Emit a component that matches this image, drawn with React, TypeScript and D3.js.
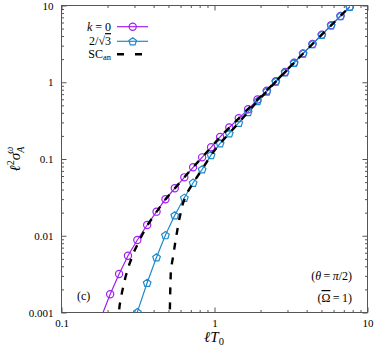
import { useEffect, useRef } from 'react'
import * as d3 from 'd3'

const X_TICKS = [0.1, 1, 10]
const X_TICK_LABELS = ['0.1', '1', '10']
const Y_TICKS = [0.001, 0.01, 0.1, 1, 10]
const Y_TICK_LABELS = ['0.001', '0.01', '0.1', '1', '10']

// lT0 values where the k = 0 markers sit
const K0_X = [
  0.208, 0.238, 0.272, 0.313, 0.363, 0.418, 0.478, 0.55, 0.635, 0.725, 0.83, 0.95, 1.088, 1.249,
  1.441, 1.658, 1.91, 2.198, 2.516, 2.893, 3.313, 3.794, 4.371, 5.028, 5.783, 6.661, 7.661,
]
const K0_Y = [
  0.00173, 0.00318, 0.0055, 0.0088, 0.0138, 0.0206, 0.0299, 0.0415, 0.0577, 0.078, 0.105, 0.142,
  0.194, 0.257, 0.339, 0.444, 0.596, 0.776, 1.03, 1.36, 1.8, 2.38, 3.15, 4.17, 5.52, 7.3, 9.64,
]
// line continues below the first marker
const K0_TAIL_X = [0.185]
const K0_TAIL_Y = [0.00095]

// k = 2/sqrt(3)
const K2_X = [
  0.313, 0.363, 0.418, 0.478, 0.55, 0.635, 0.725, 0.83, 0.95, 1.088, 1.249, 1.441, 1.658, 1.91,
  2.198, 2.516, 2.893, 3.313, 3.794, 4.371, 5.028, 5.783, 6.661, 7.661,
]
const K2_Y = [
  0.00101, 0.00244, 0.00524, 0.0102, 0.0185, 0.0313, 0.0491, 0.0734, 0.113, 0.16, 0.216, 0.297,
  0.41, 0.57, 0.76, 1.02, 1.35, 1.79, 2.37, 3.14, 4.16, 5.51, 7.29, 9.63,
]

// SC_an, k = 0 branch
const SC1_X = [
  0.2355, 0.237, 0.24, 0.249, 0.262, 0.277, 0.3, 0.33, 0.363, 0.418, 0.478, 0.55, 0.635, 0.725,
  0.83, 0.95, 1.088, 1.441, 1.91, 2.516, 3.313, 4.371, 5.783, 7.661, 8.5,
]
const SC1_Y = [
  0.0007, 0.001, 0.00125, 0.00187, 0.0029, 0.0042, 0.0064, 0.0095, 0.0136, 0.0205, 0.0298, 0.0414,
  0.0577, 0.078, 0.105, 0.142, 0.194, 0.339, 0.596, 1.03, 1.8, 3.15, 5.52, 9.64, 12,
]
// SC_an, k = 2/sqrt(3) branch
const SC2_X = [
  0.508, 0.5105, 0.514, 0.518, 0.527, 0.536, 0.558, 0.587, 0.62, 0.66, 0.725, 0.83, 0.95, 1.088,
  1.249, 1.441, 1.658, 1.91, 2.198, 2.516, 3.313,
]
const SC2_Y = [
  0.0007, 0.001, 0.002, 0.0033, 0.0044, 0.0053, 0.009, 0.016, 0.026, 0.036, 0.049, 0.0734, 0.113,
  0.16, 0.216, 0.297, 0.41, 0.57, 0.76, 1.02, 1.79,
]

const PURPLE = '#a020f0'
const BLUE = '#1f8ac9'
const FRAME = '#555'
const FONT = '"Liberation Serif", "Times New Roman", serif'

const pentagon = (cx: number, cy: number, r: number) => {
  const p = d3.path()
  for (let i = 0; i < 5; i++) {
    const a = -Math.PI / 2 + (i * 2 * Math.PI) / 5
    const px = cx + r * Math.cos(a)
    const py = cy + r * Math.sin(a)
    if (i === 0) p.moveTo(px, py)
    else p.lineTo(px, py)
  }
  p.closePath()
  return p.toString()
}

export default function App() {
  const svgRef = useRef<SVGSVGElement>(null)

  useEffect(() => {
    if (!svgRef.current) return
    const width = 374
    const height = 349
    const left = 61.5
    const right = 367.5
    const top = 5.5
    const bottom = 312.5

    const svg = d3.select(svgRef.current)
    svg.selectAll('*').remove()
    svg.attr('width', width).attr('height', height)

    const x = d3.scaleLog().domain([0.1, 10]).range([left, right])
    const y = d3.scaleLog().domain([0.001, 10]).range([bottom, top])

    svg.append('rect').attr('width', width).attr('height', height).attr('fill', '#fff')

    svg
      .append('clipPath')
      .attr('id', 'plot-clip')
      .append('rect')
      .attr('x', left)
      .attr('y', top)
      .attr('width', right - left)
      .attr('height', bottom - top)

    // ticks
    const xMinor = x.ticks().filter((t) => !X_TICKS.some((m) => Math.abs(m - t) < 1e-9))
    const yMinor = y.ticks().filter((t) => !Y_TICKS.some((m) => Math.abs(m - t) < 1e-9))

    const styleAxis = (g: d3.Selection<SVGGElement, unknown, null, undefined>) => {
      g.select('.domain').remove()
      g.selectAll('line').attr('stroke', FRAME)
      g.selectAll('text').attr('font-family', FONT).attr('font-size', 11).attr('fill', '#000')
    }

    svg.append('g').attr('transform', `translate(0,${bottom})`)
      .call(d3.axisBottom(x).tickValues(X_TICKS).tickSize(-5).tickPadding(7)
        .tickFormat((_d, i) => X_TICK_LABELS[i]))
      .call(styleAxis)
    svg.append('g').attr('transform', `translate(0,${bottom})`)
      .call(d3.axisBottom(x).tickValues(xMinor).tickSize(-2.5).tickFormat(() => ''))
      .call(styleAxis)
    svg.append('g').attr('transform', `translate(0,${top})`)
      .call(d3.axisTop(x).tickValues(X_TICKS).tickSize(-5).tickFormat(() => ''))
      .call(styleAxis)
    svg.append('g').attr('transform', `translate(0,${top})`)
      .call(d3.axisTop(x).tickValues(xMinor).tickSize(-2.5).tickFormat(() => ''))
      .call(styleAxis)

    svg.append('g').attr('transform', `translate(${left},0)`)
      .call(d3.axisLeft(y).tickValues(Y_TICKS).tickSize(-5).tickPadding(8)
        .tickFormat((_d, i) => Y_TICK_LABELS[i]))
      .call(styleAxis)
    svg.append('g').attr('transform', `translate(${left},0)`)
      .call(d3.axisLeft(y).tickValues(yMinor).tickSize(-2.5).tickFormat(() => ''))
      .call(styleAxis)
    svg.append('g').attr('transform', `translate(${right},0)`)
      .call(d3.axisRight(y).tickValues(Y_TICKS).tickSize(-5).tickFormat(() => ''))
      .call(styleAxis)
    svg.append('g').attr('transform', `translate(${right},0)`)
      .call(d3.axisRight(y).tickValues(yMinor).tickSize(-2.5).tickFormat(() => ''))
      .call(styleAxis)

    svg.append('rect')
      .attr('x', left).attr('y', top)
      .attr('width', right - left).attr('height', bottom - top)
      .attr('fill', 'none').attr('stroke', FRAME).attr('stroke-width', 1)

    const plot = svg.append('g').attr('clip-path', 'url(#plot-clip)')
    const line = d3.line<[number, number]>().x((d) => x(d[0])).y((d) => y(d[1]))
    const zip = (xs: number[], ys: number[]) => xs.map((v, i) => [v, ys[i]] as [number, number])

    // k = 0
    const k0 = zip(K0_X, K0_Y)
    plot.append('path')
      .attr('d', line([...zip(K0_TAIL_X, K0_TAIL_Y), ...k0]))
      .attr('fill', 'none').attr('stroke', PURPLE).attr('stroke-width', 1.2)
    plot.selectAll('.k0').data(k0).join('circle')
      .attr('class', 'k0')
      .attr('cx', (d) => x(d[0])).attr('cy', (d) => y(d[1])).attr('r', 3.6)
      .attr('fill', 'none').attr('stroke', PURPLE).attr('stroke-width', 1.2)

    // k = 2/sqrt(3)
    const k2 = zip(K2_X, K2_Y)
    plot.append('path')
      .attr('d', line(k2))
      .attr('fill', 'none').attr('stroke', BLUE).attr('stroke-width', 1.2)
    plot.selectAll('.k2').data(k2).join('path')
      .attr('class', 'k2')
      .attr('d', (d) => pentagon(x(d[0]), y(d[1]) + 0.4, 4))
      .attr('fill', 'none').attr('stroke', BLUE).attr('stroke-width', 1.2)

    // SC_an
    ;[zip(SC1_X, SC1_Y), zip(SC2_X, SC2_Y)].forEach((pts) => {
      plot.append('path')
        .attr('d', line(pts))
        .attr('fill', 'none').attr('stroke', '#000').attr('stroke-width', 2.4)
        .attr('stroke-dasharray', '7,8')
    })

    // legend
    const legend = svg.append('g').attr('font-family', FONT).attr('font-size', 12)
    const rows = [26.7, 41.3, 54.3]
    const t1 = legend.append('text').attr('x', 111).attr('y', rows[0] + 3.8).attr('text-anchor', 'end')
    t1.append('tspan').attr('font-style', 'italic').text('k')
    t1.append('tspan').text(' = 0')
    const t2 = legend.append('text').attr('x', 111).attr('y', rows[1] + 3.8).attr('text-anchor', 'end')
    t2.append('tspan').text('2/√')
    t2.append('tspan').attr('text-decoration', 'overline').text('3')
    const t3 = legend.append('text').attr('x', 111).attr('y', rows[2] + 3.8).attr('text-anchor', 'end')
    t3.append('tspan').text('SC')
    t3.append('tspan').attr('font-size', 8.5).attr('dy', 2).text('an')

    legend.append('line').attr('x1', 117).attr('x2', 148).attr('y1', rows[0]).attr('y2', rows[0])
      .attr('stroke', PURPLE).attr('stroke-width', 1.2)
    legend.append('circle').attr('cx', 132.7).attr('cy', rows[0]).attr('r', 3.6)
      .attr('fill', 'none').attr('stroke', PURPLE).attr('stroke-width', 1.2)
    legend.append('line').attr('x1', 117).attr('x2', 148).attr('y1', rows[1]).attr('y2', rows[1])
      .attr('stroke', BLUE).attr('stroke-width', 1.2)
    legend.append('path').attr('d', pentagon(132.7, rows[1] + 0.4, 4))
      .attr('fill', 'none').attr('stroke', BLUE).attr('stroke-width', 1.2)
    legend.append('line').attr('x1', 117).attr('x2', 142).attr('y1', rows[2]).attr('y2', rows[2])
      .attr('stroke', '#000').attr('stroke-width', 2.4).attr('stroke-dasharray', '7,11')

    // annotations
    const ann = svg.append('g').attr('font-family', FONT).attr('font-size', 12).attr('fill', '#000')
    ann.append('text').attr('x', 77).attr('y', 300).text('(c)')
    const th = ann.append('text').attr('x', 352).attr('y', 280).attr('text-anchor', 'end')
    th.append('tspan').text('(')
    th.append('tspan').attr('font-style', 'italic').text('θ')
    th.append('tspan').text('\u2009=\u2009')
    th.append('tspan').attr('font-style', 'italic').text('π')
    th.append('tspan').text('/2)')
    const om = ann.append('text').attr('x', 352).attr('y', 302).attr('text-anchor', 'end')
    om.append('tspan').text('(')
    om.append('tspan').attr('text-decoration', 'overline').text('Ω')
    om.append('tspan').text('\u2009=\u20091)')

    // axis labels
    const xl = svg.append('text').attr('x', 214).attr('y', 342).attr('text-anchor', 'middle')
      .attr('font-family', FONT).attr('font-size', 15)
    xl.append('tspan').attr('font-style', 'italic').text('ℓT')
    xl.append('tspan').attr('font-size', 10.5).attr('dy', 3).text('0')

    const yl = svg.append('text')
      .attr('transform', 'translate(20,159) rotate(-90)')
      .attr('text-anchor', 'middle')
      .attr('font-family', FONT).attr('font-size', 15)
    yl.append('tspan').attr('font-style', 'italic').text('ℓ')
    yl.append('tspan').attr('font-size', 10).attr('dy', -6).text('2')
    yl.append('tspan').attr('font-style', 'italic').attr('dy', 6).text('σ')
    yl.append('tspan').attr('font-style', 'italic').attr('font-size', 10).attr('dy', 4).text('A')
    yl.append('tspan').attr('font-style', 'italic').attr('font-size', 10).attr('dx', -7).attr('dy', -11).text('ω')
  }, [])

  return (
    <svg
      ref={svgRef}
      style={{ position: 'absolute', left: 0, top: 0, display: 'block' }}
      aria-label="l^2 sigma vs lT0 log-log plot"
    />
  )
}
